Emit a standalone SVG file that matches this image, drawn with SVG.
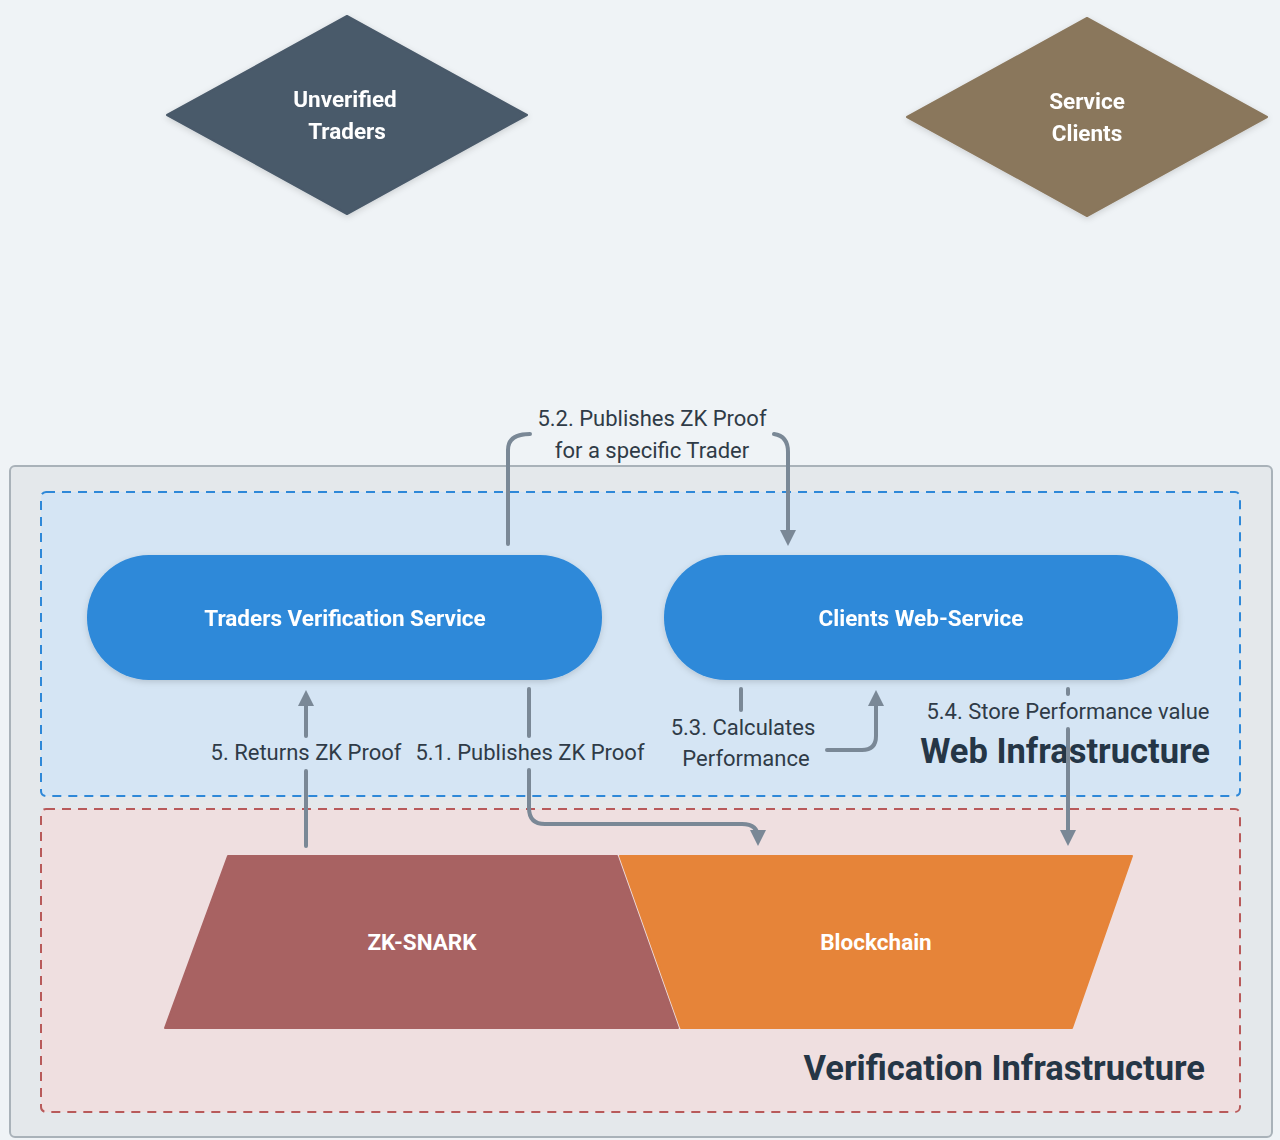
<svg xmlns="http://www.w3.org/2000/svg" width="1280" height="1140" viewBox="0 0 1280 1140">
<style>
.lbl{font-family:Roboto,"Liberation Sans",sans-serif;font-size:22px;fill:#2f3b47;text-anchor:middle}
.nt{font-family:Roboto,"Liberation Sans",sans-serif;font-size:22.5px;font-weight:bold;fill:#ffffff;text-anchor:middle}
.title{font-family:Roboto,"Liberation Sans",sans-serif;font-size:34.5px;font-weight:bold;fill:#253646;text-anchor:end}
.cn{fill:none;stroke:#7a8896;stroke-width:4;stroke-linecap:round;stroke-linejoin:round}
</style>
<defs>
<marker id="ah" viewBox="0 0 10 10" refX="5" refY="5" markerWidth="4" markerHeight="4" orient="auto" markerUnits="strokeWidth">
<path d="M0,0 L10,5 L0,10 z" fill="#7a8896"/>
</marker>
<filter id="sh" x="-10%" y="-10%" width="120%" height="130%">
<feDropShadow dx="0" dy="2" stdDeviation="3" flood-color="#000" flood-opacity="0.15"/>
</filter>
</defs>
<rect x="0" y="0" width="1280" height="1140" fill="#eff3f6"/>
<g id="container-outer">
<rect x="10" y="466" width="1262" height="671" rx="5" fill="#e4e8eb" stroke="#a9b2b9" stroke-width="2"/>
</g>
<g id="web-infrastructure">
<rect x="41" y="492" width="1199" height="304" rx="5" fill="#d5e5f4" stroke="#2e88d8" stroke-width="2" stroke-dasharray="9,7"/>
<text class="title" x="1210" y="763">Web Infrastructure</text>
</g>
<g id="verification-infrastructure">
<rect x="41" y="809" width="1199" height="303" rx="5" fill="#efdfe0" stroke="#b85a5a" stroke-width="2" stroke-dasharray="9,7"/>
<text class="title" x="1205" y="1080">Verification Infrastructure</text>
</g>
<g id="unverified-traders" filter="url(#sh)">
<path d="M347,16 L527,115 L347,214 L167,115 Z" fill="#4a5a6a" stroke="#4a5a6a" stroke-width="2" stroke-linejoin="round"/>
<text class="nt" x="345" y="107">Unverified</text>
<text class="nt" x="347" y="139">Traders</text>
</g>
<g id="service-clients" filter="url(#sh)">
<path d="M1087,18 L1267,117 L1087,216 L907,117 Z" fill="#8a775c" stroke="#8a775c" stroke-width="2" stroke-linejoin="round"/>
<text class="nt" x="1087" y="109">Service</text>
<text class="nt" x="1087" y="141">Clients</text>
</g>
<g id="traders-verification-service" filter="url(#sh)">
<rect x="87" y="555" width="515" height="125" rx="62" fill="#2e89d9"/>
<text class="nt" x="345" y="626">Traders Verification Service</text>
</g>
<g id="clients-web-service" filter="url(#sh)">
<rect x="664" y="555" width="514" height="125" rx="62" fill="#2e89d9"/>
<text class="nt" x="921" y="626">Clients Web-Service</text>
</g>
<g id="zk-snark">
<path d="M228,856 L617,856 L678,1028 L165,1028 Z" fill="#a86262" stroke="#a86262" stroke-width="2" stroke-linejoin="round"/>
<text class="nt" x="422" y="950">ZK-SNARK</text>
</g>
<g id="blockchain">
<path d="M620,856 L1132,856 L1072,1028 L681,1028 Z" fill="#e68439" stroke="#e68439" stroke-width="2" stroke-linejoin="round"/>
<text class="nt" x="876" y="950">Blockchain</text>
</g>
<g id="connectors">
<path class="cn" d="M508,544 V450 Q508,434 530,434"/>
<path class="cn" d="M774,434 Q788,436 788,452 V538" marker-end="url(#ah)"/>
<text class="lbl" x="652" y="426">5.2. Publishes ZK Proof</text>
<text class="lbl" x="652" y="458">for a specific Trader</text>

<path class="cn" d="M306,846 V771"/>
<path class="cn" d="M306,736 V698" marker-end="url(#ah)"/>
<text class="lbl" x="306" y="760">5. Returns ZK Proof</text>

<path class="cn" d="M529,689 V736"/>
<path class="cn" d="M529,770 V808 Q529,824 545,824 H742 Q758,824 758,838" marker-end="url(#ah)"/>
<text class="lbl" x="530" y="760">5.1. Publishes ZK Proof</text>

<path class="cn" d="M741,689 V710"/>
<path class="cn" d="M827,750 H862 Q876,750 876,736 V698" marker-end="url(#ah)"/>
<text class="lbl" x="743" y="735">5.3. Calculates</text>
<text class="lbl" x="746" y="766">Performance</text>

<path class="cn" d="M1068,689 V694"/>
<path class="cn" d="M1068,729 V838" marker-end="url(#ah)"/>
<text class="lbl" x="1068" y="719">5.4. Store Performance value</text>
</g>
</svg>
